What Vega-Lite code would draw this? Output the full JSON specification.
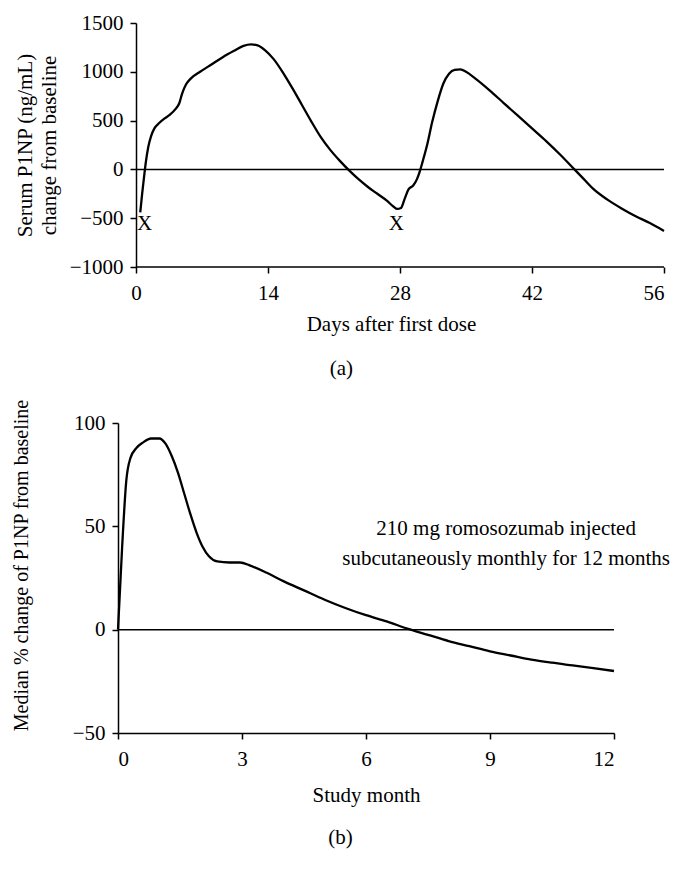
{
  "$schema": "https://vega.github.io/schema/vega-lite/v6.json",
  "background": "white",
  "padding": {"left": 11, "top": 12, "right": 5, "bottom": 5},
  "config": {
    "font": "Liberation Serif",
    "view": {"stroke": null},
    "axis": {
      "grid": false,
      "domainColor": "black",
      "tickColor": "black",
      "labelColor": "black",
      "titleColor": "black",
      "labelFont": "Liberation Serif",
      "titleFont": "Liberation Serif",
      "labelFontSize": 21,
      "titleFontSize": 21,
      "titleFontWeight": "normal",
      "domainWidth": 1.5,
      "tickWidth": 1.5,
      "tickSize": 6
    },
    "title": {"font": "Liberation Serif", "fontSize": 21, "fontWeight": "normal", "color": "black"}
  },
  "datasets": {
    "a_curve": [
      {"x": 0.45, "y": -440}, {"x": 0.65, "y": -250}, {"x": 0.85, "y": -80}, {"x": 1.05, "y": 80},
      {"x": 1.3, "y": 230}, {"x": 1.6, "y": 340}, {"x": 1.95, "y": 420}, {"x": 2.4, "y": 470},
      {"x": 3.0, "y": 520}, {"x": 3.6, "y": 560}, {"x": 4.2, "y": 620}, {"x": 4.6, "y": 680},
      {"x": 4.9, "y": 780}, {"x": 5.3, "y": 870}, {"x": 5.8, "y": 930}, {"x": 6.8, "y": 1000},
      {"x": 8.0, "y": 1075}, {"x": 9.2, "y": 1150}, {"x": 10.4, "y": 1215}, {"x": 11.4, "y": 1265},
      {"x": 12.2, "y": 1280}, {"x": 12.9, "y": 1270}, {"x": 13.7, "y": 1220}, {"x": 14.6, "y": 1130},
      {"x": 15.6, "y": 990}, {"x": 16.6, "y": 830}, {"x": 17.6, "y": 660}, {"x": 18.6, "y": 490},
      {"x": 19.6, "y": 330}, {"x": 20.6, "y": 200}, {"x": 21.6, "y": 90}, {"x": 22.6, "y": -10},
      {"x": 23.6, "y": -100}, {"x": 24.6, "y": -180}, {"x": 25.6, "y": -250}, {"x": 26.6, "y": -320},
      {"x": 27.3, "y": -380}, {"x": 27.7, "y": -405}, {"x": 28.1, "y": -395}, {"x": 28.5, "y": -300},
      {"x": 28.9, "y": -205}, {"x": 29.4, "y": -165}, {"x": 29.8, "y": -100}, {"x": 30.1, "y": -20},
      {"x": 30.4, "y": 80}, {"x": 30.9, "y": 260}, {"x": 31.4, "y": 480}, {"x": 32.0, "y": 700},
      {"x": 32.6, "y": 880}, {"x": 33.2, "y": 980}, {"x": 33.8, "y": 1020}, {"x": 34.4, "y": 1025},
      {"x": 35.0, "y": 1000}, {"x": 36.0, "y": 930}, {"x": 37.5, "y": 810}, {"x": 39.0, "y": 680},
      {"x": 40.5, "y": 550}, {"x": 42.0, "y": 420}, {"x": 43.5, "y": 290}, {"x": 45.0, "y": 150},
      {"x": 46.5, "y": 0}, {"x": 47.5, "y": -100}, {"x": 48.5, "y": -200}, {"x": 50.0, "y": -310},
      {"x": 51.5, "y": -400}, {"x": 53.0, "y": -480}, {"x": 54.5, "y": -550}, {"x": 56.0, "y": -630}
    ],
    "a_base": [{"x": 0, "y": 0}, {"x": 56, "y": 0}],
    "a_xaxis": [{"x": 0, "x2": 56, "y": -1000}],
    "a_marks": [{"x": 0.9, "y": -555, "label": "X"}, {"x": 27.6, "y": -555, "label": "X"}],
    "b_curve": [
      {"x": 0, "y": 0}, {"x": 0.1, "y": 40}, {"x": 0.2, "y": 72}, {"x": 0.3, "y": 83},
      {"x": 0.45, "y": 88}, {"x": 0.6, "y": 90.5}, {"x": 0.8, "y": 92.5}, {"x": 1.0, "y": 92.5},
      {"x": 1.15, "y": 90}, {"x": 1.3, "y": 84}, {"x": 1.45, "y": 76}, {"x": 1.6, "y": 66},
      {"x": 1.75, "y": 56}, {"x": 1.9, "y": 47}, {"x": 2.05, "y": 40}, {"x": 2.2, "y": 35.5},
      {"x": 2.4, "y": 33}, {"x": 2.7, "y": 32.5}, {"x": 2.95, "y": 32.5}, {"x": 3.2, "y": 31},
      {"x": 3.6, "y": 27.5}, {"x": 4.0, "y": 23.5}, {"x": 4.5, "y": 19}, {"x": 5.0, "y": 14.5},
      {"x": 5.5, "y": 10.5}, {"x": 6.0, "y": 7}, {"x": 6.5, "y": 4}, {"x": 7.0, "y": 0.5},
      {"x": 7.5, "y": -2.5}, {"x": 8.0, "y": -5.5}, {"x": 8.5, "y": -8}, {"x": 9.0, "y": -10.5},
      {"x": 9.5, "y": -12.5}, {"x": 10.0, "y": -14.5}, {"x": 10.5, "y": -16}, {"x": 11.0, "y": -17.3},
      {"x": 11.5, "y": -18.6}, {"x": 12.0, "y": -20}
    ],
    "b_base": [{"x": 0, "y": 0}, {"x": 12, "y": 0}],
    "b_note": [
      {"x": 9.39, "y": 48.5, "label": "210 mg romosozumab injected"},
      {"x": 9.39, "y": 34.1, "label": "subcutaneously monthly for 12 months"}
    ]
  },
  "spacing": 19,
  "vconcat": [
    {
      "width": 546,
      "height": 244,
      "title": {"text": "(a)", "orient": "bottom", "anchor": "middle", "frame": "bounds", "offset": 24},
      "encoding": {
        "x": {
          "field": "x", "type": "quantitative",
          "scale": {"domain": [-1.91, 56], "nice": false, "zero": false},
          "axis": {"values": [0, 14, 28, 42, 56], "title": "Days after first dose", "domain": false, "labelPadding": 9, "titlePadding": 10, "format": "d"}
        },
        "y": {
          "field": "y", "type": "quantitative",
          "scale": {"domain": [-1000, 1500], "nice": false, "zero": false},
          "axis": {"values": [-1000, -500, 0, 500, 1000, 1500], "offset": -18, "title": ["Serum P1NP (ng/mL)", "change from baseline"], "titleLineHeight": 24, "labelPadding": 7, "titlePadding": 10, "format": "d"}
        }
      },
      "layer": [
        {"data": {"name": "a_xaxis"}, "mark": {"type": "rule", "color": "black", "strokeWidth": 1.5}, "encoding": {"x2": {"field": "x2"}}},
        {"data": {"name": "a_base"}, "mark": {"type": "line", "color": "black", "strokeWidth": 1.5}},
        {"data": {"name": "a_curve"}, "mark": {"type": "line", "color": "black", "strokeWidth": 2.3, "interpolate": "monotone"}},
        {"data": {"name": "a_marks"}, "mark": {"type": "text", "fontSize": 21, "color": "black", "font": "Liberation Serif"}, "encoding": {"text": {"field": "label"}}}
      ]
    },
    {
      "width": 496,
      "height": 310,
      "title": {"text": "(b)", "orient": "bottom", "anchor": "middle", "frame": "bounds", "offset": 22},
      "encoding": {
        "x": {
          "field": "x", "type": "quantitative",
          "scale": {"domain": [0, 12], "nice": false},
          "axis": {"values": [0, 3, 6, 9, 12], "title": "Study month", "labelPadding": 9, "titlePadding": 15, "format": "d"}
        },
        "y": {
          "field": "y", "type": "quantitative",
          "scale": {"domain": [-50, 100], "nice": false, "zero": false},
          "axis": {"values": [-50, 0, 50, 100], "title": "Median % change of P1NP from baseline", "titleFontSize": 20, "titleY": 142, "labelPadding": 7, "titlePadding": 41, "format": "d"}
        }
      },
      "layer": [
        {"data": {"name": "b_base"}, "mark": {"type": "line", "color": "black", "strokeWidth": 1.5}},
        {"data": {"name": "b_curve"}, "mark": {"type": "line", "color": "black", "strokeWidth": 2.3, "interpolate": "monotone"}},
        {"data": {"name": "b_note"}, "mark": {"type": "text", "fontSize": 21, "color": "black", "font": "Liberation Serif"}, "encoding": {"text": {"field": "label"}}}
      ]
    }
  ]
}
